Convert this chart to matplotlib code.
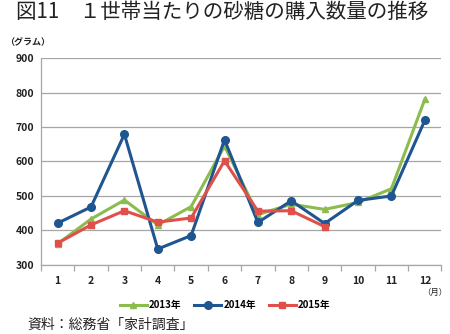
import numpy as np
import matplotlib
matplotlib.use('Agg')
import matplotlib.pyplot as plt
from matplotlib import rcParams

rcParams['font.family'] = ['Noto Sans CJK JP', 'DejaVu Sans']

months = [1, 2, 3, 4, 5, 6, 7, 8, 9, 10, 11, 12]
sugar_2013 = [361, 433, 488, 416, 469, 645, 446, 476, 461, 481, 521, 780]
sugar_2014 = [421, 468, 679, 346, 385, 663, 423, 486, 420, 487, 500, 719]
sugar_2015 = [363, 416, 457, 424, 436, 602, 456, 457, 411]
yticks = [300, 400, 500, 600, 700, 800, 900]

fig = plt.figure(figsize=(4.5, 3.34), dpi=100)
ax = fig.add_axes([0.091, 0.207, 0.890, 0.619])

ax.plot(months, sugar_2013, color='#8cbb4e', lw=2.2, marker='^', ms=5, label='2013年', zorder=3)
ax.plot(months, sugar_2014, color='#1f5590', lw=2.2, marker='o', ms=5.5, label='2014年', zorder=4)
ax.plot(months[:len(sugar_2015)], sugar_2015, color='#e0504a', lw=2.2, marker='s', ms=5, label='2015年', zorder=5)

ax.set_xlim(0.5, 12.5)
ax.set_ylim(300, 900)
ax.set_yticks(yticks)
ax.set_xticks(months)
ax.set_xticks(np.arange(0.5, 13, 1), minor=True)
ax.grid(axis='y', color='#a6a6a6', lw=0.9, zorder=0)
for s in ['top', 'right']:
    ax.spines[s].set_visible(False)
for s in ['left', 'bottom']:
    ax.spines[s].set_color('#a6a6a6')
    ax.spines[s].set_linewidth(0.9)
ax.tick_params(axis='x', which='major', length=0, pad=8)
ax.tick_params(axis='x', which='minor', length=4, color='#a6a6a6', width=0.9)
ax.tick_params(axis='y', length=0, pad=5)
for lbl in ax.get_xticklabels() + ax.get_yticklabels():
    lbl.set_fontsize(7.5)
    lbl.set_fontweight('bold')
    lbl.set_color('#222222')

fig.text(0.035, 0.963, '図11　１世帯当たりの砂糖の購入数量の推移', fontsize=14.8, va='center', ha='left', color='#222222')
fig.text(0.012, 0.873, '（グラム）', fontsize=6.5, fontweight='bold', va='center', ha='left', color='#222222')
fig.text(0.995, 0.125, '（月）', fontsize=6, va='center', ha='right', color='#222222')
fig.text(0.06, 0.027, '資料：総務省「家計調査」', fontsize=10, va='center', ha='left', color='#222222')

leg = fig.legend(loc='center', bbox_to_anchor=(0.5, 0.087), ncol=3, frameon=False,
                 handlelength=2.8, columnspacing=1.3, handletextpad=0.2,
                 prop={'weight': 'bold', 'size': 7})

fig.savefig('out.png', dpi=100)
